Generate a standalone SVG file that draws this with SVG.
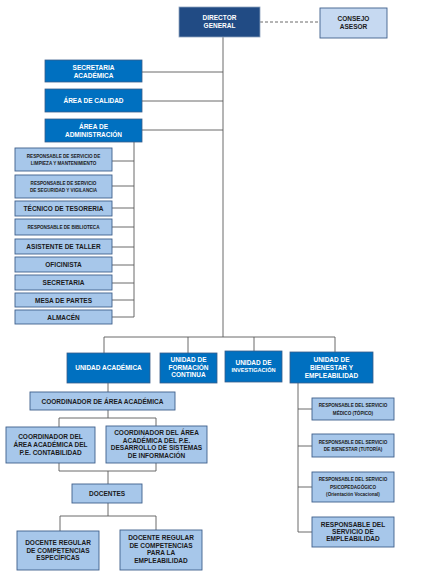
<svg xmlns="http://www.w3.org/2000/svg" width="424" height="572" viewBox="0 0 424 572">
<style>
.dir{fill:#214b84;stroke:#8fa3bf;stroke-width:0.8}
.blue{fill:#0070c0;stroke:#385d8a;stroke-width:0.8}
.light{fill:#a7c7ea;stroke:#3f5f8c;stroke-width:0.9}
.pale{fill:#c6d9f1;stroke:#3f5f8c;stroke-width:0.9}
text{font-family:"Liberation Sans",Arial,sans-serif;font-weight:bold;text-anchor:middle}
.w{fill:#ffffff;font-size:6.5px}
.d{fill:#1a1a1a;font-size:6.5px}
.s{fill:#1a1a1a;font-size:4.6px}
.c line,.c polyline{stroke:#5a5a5a;stroke-width:0.9;fill:none}
</style>
<rect width="424" height="572" fill="#ffffff"/>
<g class="c" id="connectors">
<line x1="260" y1="22" x2="320" y2="22" stroke-dasharray="3,2"/>
<line x1="223" y1="37" x2="223" y2="337"/>
<line x1="142" y1="72" x2="223" y2="72"/>
<line x1="142" y1="101" x2="223" y2="101"/>
<line x1="142" y1="130" x2="223" y2="130"/>
<line x1="134" y1="142" x2="134" y2="317"/>
<line x1="112" y1="161" x2="134" y2="161"/>
<line x1="112" y1="186" x2="134" y2="186"/>
<line x1="112" y1="208" x2="134" y2="208"/>
<line x1="112" y1="227" x2="134" y2="227"/>
<line x1="112" y1="247" x2="134" y2="247"/>
<line x1="112" y1="265" x2="134" y2="265"/>
<line x1="112" y1="283" x2="134" y2="283"/>
<line x1="112" y1="300" x2="134" y2="300"/>
<line x1="112" y1="317" x2="134" y2="317"/>
<line x1="104" y1="337" x2="335" y2="337"/>
<line x1="104" y1="337" x2="104" y2="353"/>
<line x1="188" y1="337" x2="188" y2="353"/>
<line x1="254" y1="337" x2="254" y2="351"/>
<line x1="335" y1="337" x2="335" y2="352"/>
<line x1="108" y1="383" x2="108" y2="392"/>
<polyline points="59,427 59,418 156,418 156,426"/>
<line x1="108" y1="410" x2="108" y2="418"/>
<polyline points="59,463 59,471 156,471 156,463"/>
<line x1="108" y1="471" x2="108" y2="484"/>
<line x1="108" y1="503" x2="108" y2="516"/>
<polyline points="60,531 60,516 156,516 156,530"/>
<line x1="298" y1="383" x2="298" y2="532"/>
<line x1="298" y1="409" x2="312" y2="409"/>
<line x1="298" y1="446" x2="312" y2="446"/>
<line x1="298" y1="487" x2="312" y2="487"/>
<line x1="298" y1="532" x2="312" y2="532"/>
</g>
<g id="director"><rect class="dir" x="179" y="7" width="81" height="30"/><text class="w" x="219.5" y="20">DIRECTOR</text><text class="w" x="219.5" y="28">GENERAL</text></g>
<g id="consejo"><rect class="pale" x="320" y="8" width="67" height="30"/><text class="d" x="353.5" y="21">CONSEJO</text><text class="d" x="353.5" y="29">ASESOR</text></g>
<g id="secretaria-academica"><rect class="blue" x="45" y="60" width="97" height="22"/><text class="w" x="93.5" y="69.5">SECRETARIA</text><text class="w" x="93.5" y="77.5">ACADÉMICA</text></g>
<g id="area-calidad"><rect class="blue" x="45" y="89" width="97" height="23"/><text class="w" x="93.5" y="103">ÁREA DE CALIDAD</text></g>
<g id="area-administracion"><rect class="blue" x="45" y="119" width="97" height="23"/><text class="w" x="93.5" y="128.5">ÁREA DE</text><text class="w" x="93.5" y="136.5">ADMINISTRACIÓN</text></g>
<g id="limpieza"><rect class="light" x="15" y="148" width="97" height="23"/><text class="s" x="63.5" y="157.5">RESPONSABLE DE SERVICIO DE</text><text class="s" x="63.5" y="165">LIMPIEZA Y MANTENIMIENTO</text></g>
<g id="seguridad"><rect class="light" x="15" y="175" width="97" height="23"/><text class="s" x="63.5" y="184.5">RESPONSABLE DE SERVICIO</text><text class="s" x="63.5" y="192">DE SEGURIDAD Y VIGILANCIA</text></g>
<g id="tesoreria"><rect class="light" x="15" y="201" width="97" height="15"/><text class="d" x="63.5" y="210.5">TÉCNICO DE TESORERIA</text></g>
<g id="biblioteca"><rect class="light" x="15" y="219" width="97" height="16"/><text class="s" x="63.5" y="228.5">RESPONSABLE DE BIBLIOTECA</text></g>
<g id="asistente-taller"><rect class="light" x="15" y="239" width="97" height="15"/><text class="d" x="63.5" y="249">ASISTENTE DE TALLER</text></g>
<g id="oficinista"><rect class="light" x="15" y="257" width="97" height="15"/><text class="d" x="63.5" y="267">OFICINISTA</text></g>
<g id="secretaria"><rect class="light" x="15" y="275" width="97" height="15"/><text class="d" x="63.5" y="285">SECRETARIA</text></g>
<g id="mesa-partes"><rect class="light" x="15" y="293" width="97" height="14"/><text class="d" x="63.5" y="302.5">MESA DE PARTES</text></g>
<g id="almacen"><rect class="light" x="15" y="310" width="97" height="14"/><text class="d" x="63.5" y="319.5">ALMACÉN</text></g>
<g id="unidad-academica"><rect class="blue" x="67" y="353" width="83" height="30"/><text class="w" x="108.5" y="370">UNIDAD ACADÉMICA</text></g>
<g id="unidad-formacion"><rect class="blue" x="160" y="353" width="57" height="30"/><text class="w" x="188.5" y="362">UNIDAD DE</text><text class="w" x="188.5" y="369.5">FORMACIÓN</text><text class="w" x="188.5" y="377">CONTINUA</text></g>
<g id="unidad-investigacion"><rect class="blue" x="225" y="351" width="57" height="31"/><text class="w" x="253.5" y="365">UNIDAD DE</text><text class="w" x="253.5" y="372" style="font-size:5.6px">INVESTIGACIÓN</text></g>
<g id="unidad-bienestar"><rect class="blue" x="290" y="352" width="83" height="31"/><text class="w" x="331.5" y="361.5">UNIDAD DE</text><text class="w" x="331.5" y="369.5">BIENESTAR Y</text><text class="w" x="331.5" y="377.5">EMPLEABILIDAD</text></g>
<g id="coordinador-area"><rect class="light" x="30" y="392" width="145" height="18"/><text class="d" x="102.5" y="403.5">COORDINADOR DE ÁREA ACADÉMICA</text></g>
<g id="coord-contabilidad"><rect class="light" x="6" y="427" width="89" height="36"/><text class="d" x="50.5" y="439">COORDINADOR DEL</text><text class="d" x="50.5" y="447">ÁREA ACADÉMICA DEL</text><text class="d" x="50.5" y="455">P.E. CONTABILIDAD</text></g>
<g id="coord-dsi"><rect class="light" x="106" y="426" width="101" height="37"/><text class="d" x="156.5" y="435">COORDINADOR DEL ÁREA</text><text class="d" x="156.5" y="442.5">ACADÉMICA DEL P.E.</text><text class="d" x="156.5" y="450">DESARROLLO DE SISTEMAS</text><text class="d" x="156.5" y="457.5">DE INFORMACIÓN</text></g>
<g id="docentes"><rect class="light" x="72" y="484" width="70" height="19"/><text class="d" x="107" y="496">DOCENTES</text></g>
<g id="docente-especificas"><rect class="light" x="17" y="531" width="82" height="39"/><text class="d" x="58" y="545">DOCENTE REGULAR</text><text class="d" x="58" y="552.5">DE COMPETENCIAS</text><text class="d" x="58" y="560">ESPECÍFICAS</text></g>
<g id="docente-empleabilidad"><rect class="light" x="120" y="530" width="82" height="40"/><text class="d" x="161" y="540">DOCENTE REGULAR</text><text class="d" x="161" y="547.5">DE COMPETENCIAS</text><text class="d" x="161" y="555">PARA LA</text><text class="d" x="161" y="563">EMPLEABILIDAD</text></g>
<g id="medico"><rect class="light" x="312" y="398" width="82" height="22"/><text class="s" x="353" y="407">RESPONSABLE DEL SERVICIO</text><text class="s" x="353" y="414.5">MÉDICO (TÓPICO)</text></g>
<g id="tutoria"><rect class="light" x="312" y="434" width="82" height="23"/><text class="s" x="353" y="443.5">RESPONSABLE DEL SERVICIO</text><text class="s" x="353" y="451">DE BIENESTAR (TUTORÍA)</text></g>
<g id="psicopedagogico"><rect class="light" x="312" y="472" width="82" height="30"/><text class="s" x="353" y="481">RESPONSABLE DEL SERVICIO</text><text class="s" x="353" y="488.5">PSICOPEDAGÓGICO</text><text class="s" x="353" y="496">(Orientación Vocacional)</text></g>
<g id="empleabilidad"><rect class="light" x="312" y="517" width="82" height="30"/><text class="d" x="353" y="526.5">RESPONSABLE DEL</text><text class="d" x="353" y="533.5">SERVICIO DE</text><text class="d" x="353" y="541">EMPLEABILIDAD</text></g>
</svg>
